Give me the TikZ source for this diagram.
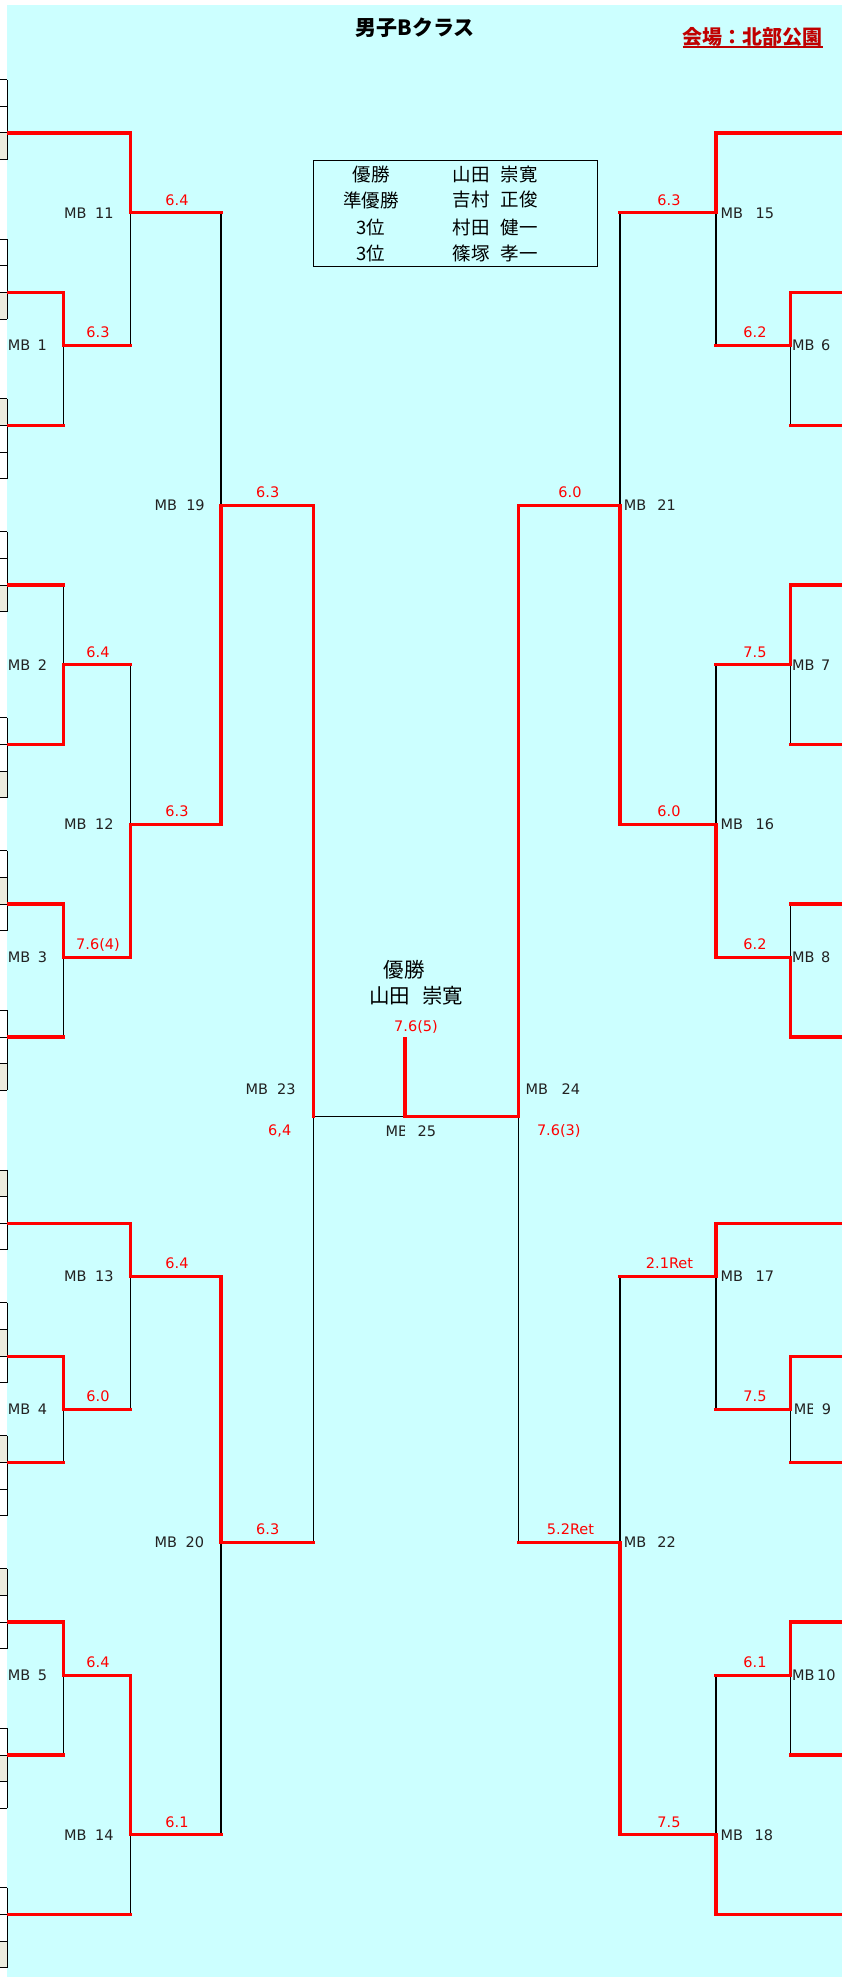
\documentclass[tikz,border=0pt]{standalone}
\usepackage{fontspec}
\setmainfont{DejaVu Sans}
\newfontfamily\jp{Noto Sans CJK JP}
\definecolor{bgc}{HTML}{CCFFFF}
\definecolor{venuec}{HTML}{C00000}
\definecolor{cellb}{RGB}{236,236,222}
\definecolor{txtc}{HTML}{222222}
\def\XA{63.3}\def\XB{130.7}\def\XC{221}\def\XD{313.3}\def\XM{405}
\def\XE{518.3}\def\XF{620}\def\XG{716}\def\XH{790.7}
\tikzset{
 win/.style={draw=red, line width=3.2pt, line cap=rect, line join=miter},
 lose/.style={draw=black, line width=1.3pt},
 mb/.style={anchor=base west, inner sep=0pt, text=txtc, font=\fontsize{14.5}{14.5}\selectfont, yshift=-5.3pt},
 sc/.style={anchor=base, inner sep=0pt, text=red, font=\fontsize{14.5}{14.5}\selectfont, yshift=7.7pt},
 jpt/.style={inner sep=0pt, font=\jp\fontsize{18.5}{18.5}\selectfont},
 jpc/.style={inner sep=0pt, font=\jp\fontsize{20.5}{20.5}\selectfont},
}
\begin{document}
\begin{tikzpicture}[x=1pt,y=-1pt]
\useasboundingbox (0,0) rectangle (842,1977);
\fill[white] (0,0) rectangle (842,1977);
\fill[bgc] (7.3,5) rectangle (842,1977);
\begin{scope}[y=-26.59pt]
% left strip cells
\foreach \ga/\gb/\gs in {3/6/5, 9/12/11, 15/18/15, 20/23/22, 27/30/29, 32/35/33, 38/41/40, 44/47/44, 49/52/50, 54/57/54, 59/62/59, 65/68/66, 71/74/73} {
  \fill[cellb] (0,\gs) rectangle (7.3,\gs+1);
  \foreach \gk in {\ga,...,\gb} {\draw[line width=0.9pt] (0,\gk) -- (7.3,\gk);}
  \draw[line width=1.1pt] (7.3,\ga) -- (7.3,\gb);
}
% losing (black) segments
\draw[lose] (\XB,8) -- (\XB,13);
\draw[lose] (\XA,13) -- (\XA,16);
\draw[lose] (\XC,8) -- (\XC,19);
\draw[lose] (\XA,22) -- (\XA,25);
\draw[lose] (\XB,25) -- (\XB,31);
\draw[lose] (\XA,36) -- (\XA,39);
\draw[lose] (\XD,42) -- (\XD,58);
\draw[lose] (\XD,42) -- (\XM,42);
\draw[lose] (\XE,42) -- (\XE,58);
\draw[lose] (\XB,48) -- (\XB,53);
\draw[lose] (\XA,53) -- (\XA,55);
\draw[lose] (\XC,58) -- (\XC,69);
\draw[lose] (\XA,63) -- (\XA,66);
\draw[lose] (\XB,69) -- (\XB,72);
\draw[lose] (\XG,8) -- (\XG,13);
\draw[lose] (\XH,13) -- (\XH,16);
\draw[lose] (\XF,8) -- (\XF,19);
\draw[lose] (\XH,25) -- (\XH,28);
\draw[lose] (\XG,25) -- (\XG,31);
\draw[lose] (\XH,34) -- (\XH,36);
\draw[lose] (\XF,48) -- (\XF,58);
\draw[lose] (\XG,48) -- (\XG,53);
\draw[lose] (\XH,53) -- (\XH,55);
\draw[lose] (\XH,63) -- (\XH,66);
\draw[lose] (\XG,63) -- (\XG,69);
% winning (red) paths, left
\draw[win] (8.9,5) -- (\XB,5) -- (\XB,8) -- (\XC,8);
\draw[win] (8.9,11) -- (\XA,11) -- (\XA,13) -- (\XB,13);
\draw[win] (8.9,16) -- (\XA,16);
\draw[win] (8.9,22) -- (\XA,22);
\draw[win] (8.9,28) -- (\XA,28) -- (\XA,25) -- (\XB,25);
\draw[win] (8.9,34) -- (\XA,34) -- (\XA,36) -- (\XB,36) -- (\XB,31) -- (\XC,31) -- (\XC,19) -- (\XD,19) -- (\XD,42);
\draw[win] (8.9,39) -- (\XA,39);
\draw[win] (8.9,46) -- (\XB,46) -- (\XB,48) -- (\XC,48) -- (\XC,58) -- (\XD,58);
\draw[win] (8.9,51) -- (\XA,51) -- (\XA,53) -- (\XB,53);
\draw[win] (8.9,55) -- (\XA,55);
\draw[win] (8.9,61) -- (\XA,61) -- (\XA,63) -- (\XB,63) -- (\XB,69) -- (\XC,69);
\draw[win] (8.9,66) -- (\XA,66);
\draw[win] (8.9,72) -- (\XB,72);
% centre and right
\draw[win] (\XM,39.07) -- (\XM,42) -- (\XE,42) -- (\XE,19) -- (\XF,19) -- (\XF,31) -- (\XG,31) -- (\XG,36) -- (\XH,36) -- (\XH,39) -- (845,39);
\draw[win] (845,5) -- (\XG,5) -- (\XG,8) -- (\XF,8);
\draw[win] (845,11) -- (\XH,11) -- (\XH,13) -- (\XG,13);
\draw[win] (845,16) -- (\XH,16);
\draw[win] (845,22) -- (\XH,22) -- (\XH,25) -- (\XG,25);
\draw[win] (845,28) -- (\XH,28);
\draw[win] (845,34) -- (\XH,34);
\draw[win] (845,46) -- (\XG,46) -- (\XG,48) -- (\XF,48);
\draw[win] (845,51) -- (\XH,51) -- (\XH,53) -- (\XG,53);
\draw[win] (845,55) -- (\XH,55);
\draw[win] (845,61) -- (\XH,61) -- (\XH,63) -- (\XG,63);
\draw[win] (845,66) -- (\XH,66);
\draw[win] (\XE,58) -- (\XF,58) -- (\XF,69) -- (\XG,69) -- (\XG,72) -- (845,72);
% match labels left
\node[mb] (mb11) at (64,8) {MB\hspace{8.5pt}11};
\node[mb] (mb1) at (7.7,13) {MB\hspace{7.2pt}1};
\node[mb] (mb19) at (154.4,19) {MB\hspace{9.2pt}19};
\node[mb] (mb2) at (7.7,25) {MB\hspace{7.5pt}2};
\node[mb] (mb12) at (64,31) {MB\hspace{8.5pt}12};
\node[mb] (mb3) at (7.7,36) {MB\hspace{7.5pt}3};
\node[mb] (mb13) at (64,48) {MB\hspace{8.5pt}13};
\node[mb] (mb4) at (7.7,53) {MB\hspace{7.5pt}4};
\node[mb] (mb20) at (154.4,58) {MB\hspace{8.5pt}20};
\node[mb] (mb5) at (7.7,63) {MB\hspace{7.5pt}5};
\node[mb] (mb14) at (64,69) {MB\hspace{8.5pt}14};
% match labels right
\node[mb] (mb15) at (720.4,8) {MB\hspace{12.5pt}15};
\node[mb] (mb6) at (792,13) {MB\hspace{6.5pt}6};
\node[mb] (mb21) at (623.7,19) {MB\hspace{11pt}21};
\node[mb] (mb7) at (792,25) {MB\hspace{6.5pt}7};
\node[mb] (mb16) at (720.4,31) {MB\hspace{12.5pt}16};
\node[mb] (mb8) at (792,36) {MB\hspace{6.5pt}8};
\node[mb] (mb17) at (720.4,48) {MB\hspace{12.5pt}17};
\node[mb] (mb22) at (623.7,58) {MB\hspace{11pt}22};
\node[mb] (mb10) at (792,63) {MB\hspace{2.5pt}10};
\node[mb] (mb18) at (720.4,69) {MB\hspace{11.5pt}18};
% scores left
\node[sc] (s11) at (177,8) {6.4};
\node[sc] (s1) at (98,13) {6.3};
\node[sc] (s19) at (267.7,19) {6.3};
\node[sc] (s2) at (98,25) {6.4};
\node[sc] (s12) at (177,31) {6.3};
\node[sc] (s3) at (98,36) {7.6(4)};
\node[sc] (s13) at (177,48) {6.4};
\node[sc] (s4) at (98,53) {6.0};
\node[sc] (s20) at (267.7,58) {6.3};
\node[sc] (s5) at (98,63) {6.4};
\node[sc] (s14) at (177,69) {6.1};
% scores right
\node[sc] (s15) at (669,8) {6.3};
\node[sc] (s6) at (755,13) {6.2};
\node[sc] (s21) at (570,19) {6.0};
\node[sc] (s7) at (755,25) {7.5};
\node[sc] (s16) at (669,31) {6.0};
\node[sc] (s8) at (755,36) {6.2};
\node[sc] (s17) at (669.5,48) {2.1Ret};
\node[sc] (s9) at (755,53) {7.5};
\node[sc] (s22) at (570.5,58) {5.2Ret};
\node[sc] (s10) at (755,63) {6.1};
\node[sc] (s18) at (669,69) {7.5};
\end{scope}
\begin{scope}
\clip (785,1390) rectangle (812,1430) (820,1390) rectangle (845,1430);
\node[mb] (mb9) at (793.7,1409.3) {MB\hspace{5.5pt}9};
\end{scope}
% centre labels
\node[mb] (mb23) at (245.4,1089.3) {MB\hspace{9pt}23};
\node[mb] (mb24) at (525.4,1089.3) {MB\hspace{13.5pt}24};
\begin{scope}
\clip (370,1115) rectangle (404.3,1145) (418,1115) rectangle (460,1145);
\node[mb] (mb25) at (385.4,1130.7) {MB\hspace{9.5pt}25};
\end{scope}
\node[sc] (s25) at (416,1039) {7.6(5)};
\node[sc] (s23) at (279.7,1143) {6,4};
\node[sc] (s24) at (558.8,1143) {7.6(3)};
% title and venue
\node[font=\jp\bfseries\fontsize{21}{21}\selectfont, inner sep=0pt] (title) at (415,28) {男子Bクラス};
\node[anchor=east, text=venuec, font=\jp\bfseries\fontsize{20}{20}\selectfont, inner sep=0pt] (venue) at (823,36.7) {会場：北部公園};
\coordinate (ul) at (0,47.3);
\draw[venuec, line width=1.6pt] (venue.west |- ul) -- (venue.east |- ul);
% results table
\node[draw, line width=1pt, minimum width=284pt, minimum height=106pt, inner sep=0pt] (res) at (455.3,213.7) {};
\node[jpt] (r1a) at (371,174.3) {優勝};
\node[jpt] (r2a) at (371,200) {準優勝};
\node[jpt] (r3a) at (371,227.3) {3位};
\node[jpt] (r4a) at (371,253.3) {3位};
\node[jpt, anchor=west] (r1b) at (452.5,174.3) {山田\hspace{11pt}崇寛};
\node[jpt, anchor=west] (r2b) at (452.5,200) {吉村\hspace{11pt}正俊};
\node[jpt, anchor=west] (r3b) at (452.5,227.3) {村田\hspace{11pt}健一};
\node[jpt, anchor=west] (r4b) at (452.5,253.3) {篠塚\hspace{11pt}孝一};
% champion
\node[jpc] (champ) at (404.3,969.3) {優勝};
\node[jpc] (champn) at (416.3,996) {山田\hspace{12pt}崇寛};
\end{tikzpicture}
\end{document}
